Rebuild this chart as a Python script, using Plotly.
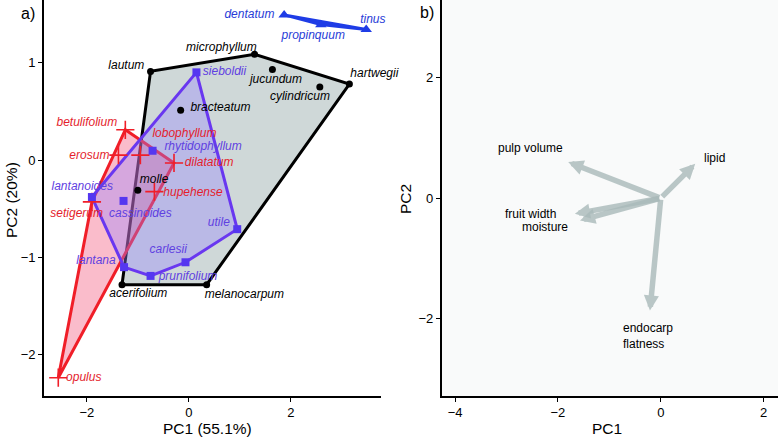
import plotly.graph_objects as go

# ---------------- Panel a) species PCA scores ----------------
black_names = ["lautum", "microphyllum", "hartwegii", "jucundum", "cylindricum",
               "bracteatum", "molle", "acerifolium", "melanocarpum"]
black_pc1 = [-0.75, 1.29, 3.15, 1.64, 2.57, -0.16, -1.00, -1.31, 0.35]
black_pc2 = [0.91, 1.085, 0.78, 0.93, 0.75, 0.51, -0.31, -1.28, -1.28]
black_lab_x = [-1.225, 0.64, 3.64, 1.71, 2.18, 0.62, -0.68, -0.99, 1.09]
black_lab_y = [0.97, 1.153, 0.88, 0.82, 0.65, 0.53, -0.21, -1.376, -1.386]

purple_names = ["sieboldii", "rhytidophyllum", "lantanoides", "cassinoides",
                "lantana", "prunifolium", "carlesii", "utile"]
purple_pc1 = [0.15, -0.71, -1.90, -1.28, -1.27, -0.75, -0.065, 0.95]
purple_pc2 = [0.90, 0.095, -0.38, -0.42, -1.10, -1.19, -1.05, -0.71]
purple_lab_x = [0.70, 0.28, -2.09, -0.95, -1.82, -0.016, -0.405, 0.59]
purple_lab_y = [0.90, 0.137, -0.28, -0.55, -1.034, -1.198, -0.924, -0.65]

red_names = ["betulifolium", "erosum", "lobophyllum", "dilatatum", "hupehense",
             "setigerum", "opulus"]
red_pc1 = [-1.245, -1.38, -0.95, -0.29, -0.675, -1.90, -2.56]
red_pc2 = [0.31, 0.05, 0.05, -0.03, -0.325, -0.43, -2.235]
red_lab_x = [-2.00, -1.95, -0.085, 0.40, 0.083, -2.20, -2.06]
red_lab_y = [0.383, 0.044, 0.267, -0.034, -0.336, -0.55, -2.24]

blue_names = ["dentatum", "propinquum", "tinus"]
blue_pc1 = [1.87, 2.59, 3.48]
blue_pc2 = [1.49, 1.39, 1.34]
blue_lab_x = [1.19, 2.44, 3.61]
blue_lab_y = [1.49, 1.27, 1.44]

# ---------------- Panel b) trait loadings ----------------
trait_names = ["pulp volume", "lipid", "fruit width", "moisture", "endocarp<br>flatness"]
trait_pc1 = [-1.80, 0.67, -1.67, -1.57, -0.21]
trait_pc2 = [0.60, 0.57, -0.26, -0.37, -1.87]
trait_lab_x = [-2.54, 1.04, -2.54, -2.25, -0.77]
trait_lab_y = [0.83, 0.67, -0.26, -0.48, -2.30]
trait_lab_anchor = ["center", "center", "center", "center", "left"]

x1_ticks = [-2, 0, 2]
y1_ticks = [-2, -1, 0, 1]
x2_ticks = [-4, -2, 0, 2]
y2_ticks = [-2, 0, 2]


def convex_hull(xs, ys):
    pts = sorted(set(zip(xs, ys)))

    def cross(o, a, b):
        return (a[0] - o[0]) * (b[1] - o[1]) - (a[1] - o[1]) * (b[0] - o[0])

    lower, upper = [], []
    for p in pts:
        while len(lower) >= 2 and cross(lower[-2], lower[-1], p) <= 0:
            lower.pop()
        lower.append(p)
    for p in reversed(pts):
        while len(upper) >= 2 and cross(upper[-2], upper[-1], p) <= 0:
            upper.pop()
        upper.append(p)
    hull = lower[:-1] + upper[:-1]
    hull.append(hull[0])
    return [p[0] for p in hull], [p[1] for p in hull]


FONT = "Liberation Sans, Arial, Helvetica, sans-serif"

groups = [
    dict(names=black_names, x=black_pc1, y=black_pc2, lx=black_lab_x, ly=black_lab_y,
         line="black", fill="rgba(150,170,170,0.46)", text="black",
         marker=dict(symbol="circle", size=7, color="black")),
    dict(names=red_names, x=red_pc1, y=red_pc2, lx=red_lab_x, ly=red_lab_y,
         line="rgb(240,30,40)", fill="rgba(240,70,110,0.36)", text="rgb(228,30,45)",
         marker=dict(symbol="cross-thin", size=13, color="rgb(240,30,40)",
                     line=dict(width=1.6, color="rgb(240,30,40)"))),
    dict(names=purple_names, x=purple_pc1, y=purple_pc2, lx=purple_lab_x, ly=purple_lab_y,
         line="rgb(105,55,240)", fill="rgba(150,130,255,0.36)", text="rgb(95,65,225)",
         marker=dict(symbol="square", size=8, color="rgb(85,55,240)")),
    dict(names=blue_names, x=blue_pc1, y=blue_pc2, lx=blue_lab_x, ly=blue_lab_y,
         line="rgb(30,60,230)", fill="rgba(30,60,230,0.75)", text="rgb(40,60,215)",
         marker=dict(symbol="triangle-up", size=10, color="rgb(30,60,230)")),
]

fig = go.Figure()

# hull polygons
for g in groups:
    hx, hy = convex_hull(g["x"], g["y"])
    fig.add_trace(go.Scatter(x=hx, y=hy, mode="lines", fill="toself",
                             fillcolor=g["fill"], line=dict(color=g["line"], width=3),
                             hoverinfo="skip", showlegend=False, xaxis="x", yaxis="y"))
# points
for g in groups:
    fig.add_trace(go.Scatter(x=g["x"], y=g["y"], mode="markers", marker=g["marker"],
                             text=g["names"], showlegend=False, xaxis="x", yaxis="y",
                             cliponaxis=False))
# labels
for g in groups:
    fig.add_trace(go.Scatter(x=g["lx"], y=g["ly"], mode="text", text=g["names"],
                             texttemplate="<i>%{text}</i>", textposition="middle center",
                             textfont=dict(family=FONT, size=12, color=g["text"]),
                             hoverinfo="skip", showlegend=False, xaxis="x", yaxis="y",
                             cliponaxis=False))

# panel b labels
for i, name in enumerate(trait_names):
    fig.add_annotation(x=trait_lab_x[i], y=trait_lab_y[i], xref="x2", yref="y2",
                       text=name, showarrow=False, xanchor=trait_lab_anchor[i],
                       align="left", font=dict(family=FONT, size=12, color="black"))
# panel b arrows
for i in range(len(trait_names)):
    fig.add_annotation(x=trait_pc1[i], y=trait_pc2[i], ax=0, ay=0,
                       xref="x2", yref="y2", axref="x2", ayref="y2",
                       text="", showarrow=True, arrowhead=2, arrowsize=0.55,
                       arrowwidth=5.5, arrowcolor="rgba(170,186,186,0.8)")

W, H = 778, 437
x1_dom = [44 / W, 381 / W]
x2_dom = [441.7 / W, 1.0]
y_dom = [1 - 396 / H, 1.0]

axis_common = dict(showgrid=False, zeroline=False, showline=True, linecolor="black",
                   linewidth=1.6, ticks="outside", ticklen=4, tickwidth=1.2,
                   tickcolor="black", tickfont=dict(family=FONT, size=13, color="black"),
                   automargin=False)

fig.update_layout(
    width=W, height=H,
    margin=dict(l=0, r=0, t=0, b=0),
    paper_bgcolor="white", plot_bgcolor="white",
    xaxis=dict(domain=x1_dom, range=[-2.84, 3.77], tickvals=x1_ticks, anchor="y",
               **axis_common),
    yaxis=dict(domain=y_dom, range=[-2.423, 1.643], tickvals=y1_ticks, anchor="x",
               **axis_common),
    xaxis2=dict(domain=x2_dom, range=[-4.26, 2.28], tickvals=x2_ticks, anchor="y2",
                **axis_common),
    yaxis2=dict(domain=y_dom, range=[-3.29, 3.295], tickvals=y2_ticks, anchor="x2",
                **axis_common),
    showlegend=False,
)

# light background for panel b
fig.add_shape(type="rect", xref="x2 domain", yref="y2 domain", x0=0, x1=1, y0=0, y1=1,
              fillcolor="#f9fafa", line=dict(width=0), layer="below")

# axis titles and panel tags
tfont = dict(family=FONT, size=15.5, color="black")
fig.add_annotation(x=207 / W, y=1 - 428 / H, xref="paper", yref="paper", text="PC1 (55.1%)",
                   showarrow=False, font=tfont, xanchor="center", yanchor="middle")
fig.add_annotation(x=11 / W, y=1 - 200 / H, xref="paper", yref="paper", text="PC2 (20%)",
                   showarrow=False, font=tfont, textangle=-90, xanchor="center", yanchor="middle")
fig.add_annotation(x=607 / W, y=1 - 428 / H, xref="paper", yref="paper", text="PC1",
                   showarrow=False, font=tfont, xanchor="center", yanchor="middle")
fig.add_annotation(x=405 / W, y=1 - 199 / H, xref="paper", yref="paper", text="PC2",
                   showarrow=False, font=tfont, textangle=-90, xanchor="center", yanchor="middle")
fig.add_annotation(x=28 / W, y=1 - 13 / H, xref="paper", yref="paper", text="a)",
                   showarrow=False, font=dict(family=FONT, size=16, color="black"),
                   xanchor="center", yanchor="middle")
fig.add_annotation(x=427 / W, y=1 - 12 / H, xref="paper", yref="paper", text="b)",
                   showarrow=False, font=dict(family=FONT, size=16, color="black"),
                   xanchor="center", yanchor="middle")

fig.write_html("out.html", config={"displayModeBar": False},
               post_script="document.body.style.margin='0';document.body.style.overflow='hidden';")
